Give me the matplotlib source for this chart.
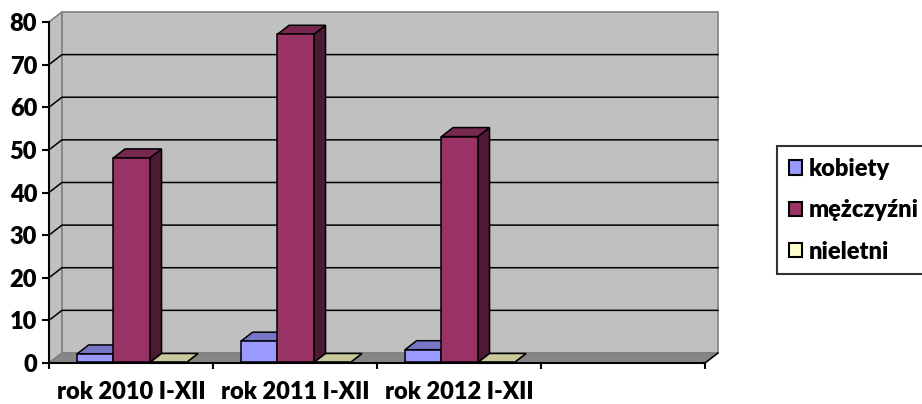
import numpy as np
import matplotlib.pyplot as plt
from matplotlib.patches import Polygon, Patch

plt.rcParams['font.family'] = ['Lato', 'DejaVu Sans']
plt.rcParams['font.weight'] = 'heavy'

# data
categories = ['rok 2010 I-XII', 'rok 2011 I-XII', 'rok 2012 I-XII', '']
series = ['kobiety', 'mężczyźni', 'nieletni']
kobiety = [2, 5, 3]
mezczyzni = [48, 77, 53]
nieletni = [0, 0, 0]
yticks = [0, 10, 20, 30, 40, 50, 60, 70, 80]

face_colors = ['#9999FF', '#993366', '#FFFFCC']
top_colors = ['#7676C6', '#76284F', '#C9C99C']
side_colors = ['#5C5C99', '#4D1A33', '#99997A']

ymax = 80
ncat = len(categories)
DX, DY = 0.079, 2.35   # depth of the 3d box, in data units
w = 1 / 4.5            # bar width with 150% gap
fs = 17

fig = plt.figure(figsize=(9.22, 4.04), dpi=100)
ax = fig.add_axes([49 / 922, 41 / 404, 656 / 922, 341 / 404])
ax.set_xlim(0, ncat)
ax.set_ylim(0, ymax)
ax.patch.set_visible(False)


def poly(pts, fc, ec='black', lw=1.1, z=1):
    ax.add_patch(Polygon(pts, closed=True, fc=fc, ec=ec, lw=lw, zorder=z,
                         clip_on=False, joinstyle='miter'))


# walls and floor
poly([(0, 0), (DX, DY), (DX, ymax + DY), (0, ymax)], '#C0C0C0', '#808080', 1.2, 0.5)
poly([(DX, DY), (ncat + DX, DY), (ncat + DX, ymax + DY), (DX, ymax + DY)],
     '#C0C0C0', '#808080', 1.2, 0.5)
poly([(0, 0), (ncat, 0), (ncat + DX, DY), (DX, DY)], '#868686', '#808080', 1.0, 0.6)
ax.plot([ncat, ncat + DX], [0, DY], color='black', lw=1.1, zorder=0.7, clip_on=False)

for v in yticks[1:-1]:
    ax.plot([0, DX, ncat + DX], [v, v + DY, v + DY], color='black', lw=1.1,
            zorder=0.8, clip_on=False)

# bars
values = [kobiety, mezczyzni, nieletni]
f0, f1 = 0.05, 0.95
ox, oy = f0 * DX, f0 * DY
ddx, ddy = (f1 - f0) * DX, (f1 - f0) * DY
z = 2
for c in range(len(kobiety)):
    for i, vals in enumerate(values):
        v = vals[c]
        x0 = c + 0.75 * w + i * w + ox
        x1 = x0 + w
        y0 = oy
        y1 = v + oy
        poly([(x1, y0), (x1 + ddx, y0 + ddy), (x1 + ddx, y1 + ddy), (x1, y1)],
             side_colors[i], z=z)
        poly([(x0, y1), (x1, y1), (x1 + ddx, y1 + ddy), (x0 + ddx, y1 + ddy)],
             top_colors[i], z=z)
        poly([(x0, y0), (x1, y0), (x1, y1), (x0, y1)], face_colors[i], z=z)
        z += 1

# axes
for s in ['top', 'right']:
    ax.spines[s].set_visible(False)
for s in ['left', 'bottom']:
    ax.spines[s].set_linewidth(1.5)
    ax.spines[s].set_zorder(50)

ax.set_yticks(yticks)
ax.tick_params(axis='y', direction='out', length=5, width=1.5, pad=3.5,
               labelsize=fs)
ax.set_xticks(np.arange(ncat + 1))
ax.set_xticklabels([])
ax.set_xticks(np.arange(ncat) + 0.5, minor=True)
ax.set_xticklabels(categories, minor=True)
ax.tick_params(axis='x', which='major', direction='out', length=4.5, width=1.5)
ax.tick_params(axis='x', which='minor', length=0, pad=13, labelsize=fs)

handles = [Patch(fc=c, ec='black', lw=1.5) for c in face_colors]
leg = fig.legend(handles, series, loc='upper left',
                 bbox_to_anchor=(777 / 922, 1 - 146 / 404),
                 frameon=True, fancybox=False, edgecolor='black',
                 prop={'size': fs, 'weight': 'heavy'},
                 handlelength=0.55, handleheight=0.55, handletextpad=0.3,
                 labelspacing=0.82, borderpad=0.5, borderaxespad=0)
leg.get_frame().set_linewidth(1.5)

fig.savefig('out.png', dpi=100, facecolor='white')
